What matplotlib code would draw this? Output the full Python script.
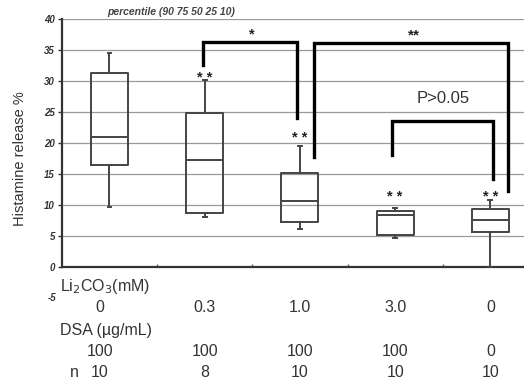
import numpy as np
import matplotlib.pyplot as plt

plt.rcParams['font.family'] = ['Liberation Sans', 'DejaVu Sans']

# percentile (90 75 50 25 10) per group
p90 = [34.5, 30.2, 19.5, 9.5, 10.8]
p75 = [31.3, 24.8, 15.2, 9.0, 9.4]
p50 = [21.0, 17.3, 10.6, 8.4, 7.6]
p25 = [16.5, 8.7, 7.3, 5.2, 5.6]
p10 = [9.7, 8.0, 6.1, 4.7, 0.0]

li2co3 = ['0', '0.3', '1.0', '3.0', '0']
dsa = ['100', '100', '100', '100', '0']
n_vals = ['10', '8', '10', '10', '10']

star_groups = [1, 2, 3, 4]
star_y = [31.3, 21.6, 12.0, 12.0]

yticks = [0, 5, 10, 15, 20, 25, 30, 35, 40]

fig = plt.figure(figsize=(5.24, 3.81), dpi=100)
ax = fig.add_axes([0.118, 0.218, 0.882, 0.732])

stats = []
for i in range(len(p50)):
    stats.append({'whislo': p10[i], 'q1': p25[i], 'med': p50[i],
                  'q3': p75[i], 'whishi': p90[i]})

box_col = '#444444'
ax.bxp(stats, positions=range(len(stats)), widths=0.39, showfliers=False,
       boxprops=dict(color=box_col, lw=1.4),
       medianprops=dict(color=box_col, lw=1.4),
       whiskerprops=dict(color=box_col, lw=1.4),
       capprops=dict(color=box_col, lw=1.4), capwidths=0.04, zorder=3)

ax.set_xlim(-0.5, 4.353)
ax.set_ylim(-5, 40)

# grid lines
for y in yticks[1:]:
    ax.axhline(y, color='#9a9a9a', lw=0.9, zorder=1)

ax.spines['top'].set_visible(False)
ax.spines['right'].set_visible(False)
ax.spines['left'].set_bounds(0, 40)
ax.spines['left'].set_linewidth(1.6)
ax.spines['left'].set_color('#333333')
ax.spines['bottom'].set_position(('data', 0))
ax.spines['bottom'].set_linewidth(1.6)
ax.spines['bottom'].set_color('#333333')

ax.set_yticks(yticks)
ax.set_yticklabels([str(t) for t in yticks], fontsize=7, fontweight='bold',
                   style='italic', color='#333333')
ax.tick_params(axis='y', length=3, width=1, color='#333333', pad=2)
ax.text(-0.56, -5, '-5', fontsize=7, fontweight='bold', style='italic',
        color='#333333', ha='right', va='center')
ax.set_xticks([0.5, 1.5, 2.5, 3.5])
ax.set_xticklabels([])
ax.tick_params(axis='x', length=2, width=1, color='#666666', direction='in')

ax.set_ylabel('Histamine release %', fontsize=10.5, color='#333333', labelpad=12)

# significance stars (asterisk glyph sits ~1.4 units above baseline)
for g, y in zip(star_groups, star_y):
    ax.text(g, y - 1.4, '* *', fontsize=10.5, fontweight='bold', ha='center',
            va='baseline', color='#222222')

# brackets
bk = dict(color='black', lw=2.4, solid_joinstyle='miter', zorder=4)
ax.plot([0.98, 0.98, 1.97, 1.97], [32.6, 36.3, 36.3, 24.0], **bk)
ax.text(1.5, 38.2 - 1.4, '*', fontsize=10.5, fontweight='bold', ha='center',
        va='baseline', color='#222222')
ax.plot([2.15, 2.15, 4.18, 4.18], [17.8, 36.1, 36.1, 12.3], **bk)
ax.text(3.2, 38.1 - 1.4, '**', fontsize=11, fontweight='bold', ha='center',
        va='baseline', color='#222222')
ax.plot([2.97, 2.97, 4.03, 4.03], [18.0, 23.6, 23.6, 14.2], **bk)
ax.text(3.5, 27.2, 'P>0.05', fontsize=12, ha='center', va='center', color='#333333')

# condition table under the axis
tc = '#333333'
fs = 11.5
ax.text(-0.52, -3.2, 'Li$_2$CO$_3$(mM)', fontsize=fs, color=tc, va='center',
        ha='left', clip_on=False)
ax.text(-0.52, -10.2, 'DSA (\u00b5g/mL)', fontsize=fs, color=tc, va='center',
        ha='left', clip_on=False)
ax.text(-0.42, -17.1, 'n', fontsize=fs, color=tc, va='center', ha='left',
        clip_on=False)
for i in range(len(li2co3)):
    x = i - 0.1 if i == 0 else i
    ax.text(x, -6.6, li2co3[i], fontsize=fs, color=tc, ha='center', va='center', clip_on=False)
    ax.text(x, -13.7, dsa[i], fontsize=fs, color=tc, ha='center', va='center', clip_on=False)
    ax.text(x, -17.1, n_vals[i], fontsize=fs, color=tc, ha='center', va='center', clip_on=False)

fig.text(0.327, 0.968, 'percentile (90 75 50 25 10)', fontsize=7.5, style='italic',
         fontweight='bold', color='#444444', ha='center', va='center')

fig.savefig('out.png', dpi=100)
